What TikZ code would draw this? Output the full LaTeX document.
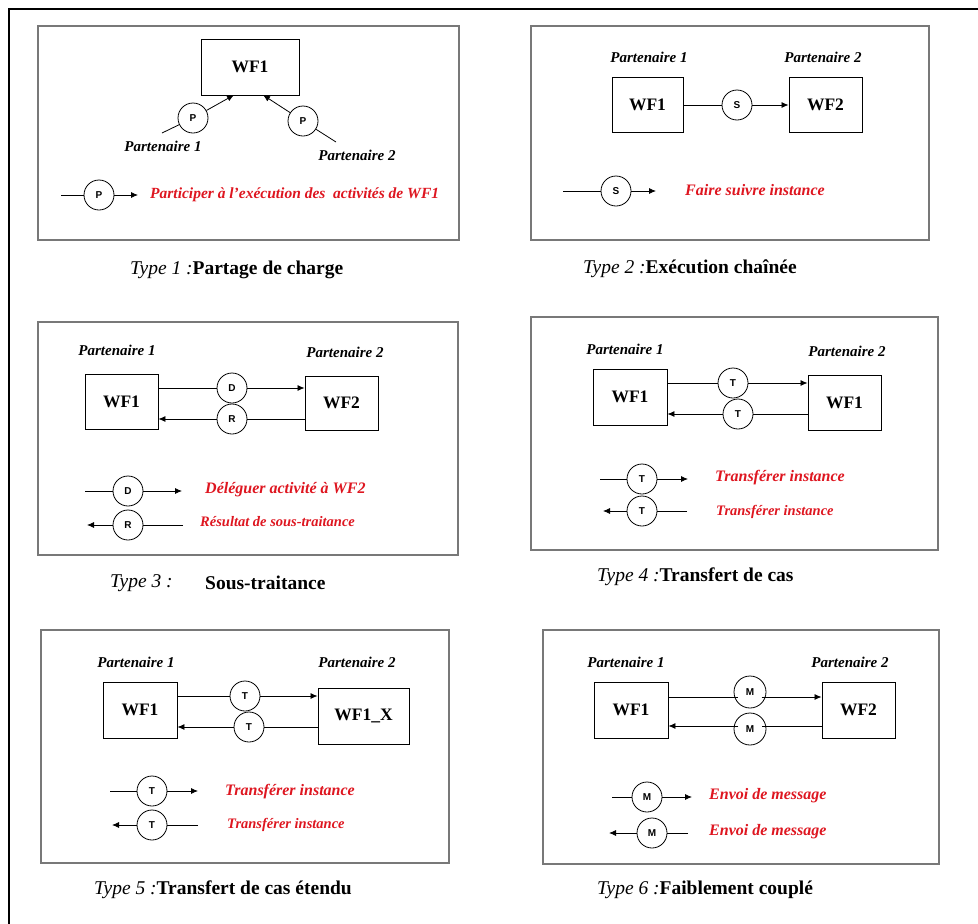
\documentclass[tikz,border=0pt]{standalone}
\usepackage{fontspec}
\setmainfont{Liberation Serif}
\newfontfamily\tokfont{Liberation Sans}
\usetikzlibrary{arrows.meta}
\definecolor{legendred}{RGB}{222,22,32}
\definecolor{framegray}{RGB}{120,120,120}
\tikzset{
  x=1pt, y=-1pt,
  panel/.style={draw=framegray, line width=1.3pt},
  wfbox/.style={draw, line width=0.9pt, inner sep=0, font=\fontsize{17.5}{17.5}\selectfont\bfseries},
  tok/.style={circle, draw, line width=0.8pt, minimum size=30pt, inner sep=0, font=\tokfont\fontsize{10}{10}\selectfont\bfseries},
  partner/.style={inner sep=0, font=\fontsize{15}{15}\selectfont\bfseries\itshape},
  legend/.style={anchor=west, inner sep=0, text=legendred, font=\fontsize{16}{16}\selectfont\bfseries\itshape},
  smalllegend/.style={legend, font=\fontsize{14.5}{14.5}\selectfont\bfseries\itshape},
  caption/.style={anchor=west, inner sep=0},
  conn/.style={line width=0.8pt},
  arr/.style={conn, -{Latex[length=7pt,width=6pt]}},
}
\newcommand{\capt}[2]{{\fontsize{19.5}{19.5}\selectfont\itshape #1}{\fontsize{19.5}{19.5}\selectfont\bfseries #2}}
\begin{document}
\begin{tikzpicture}
\useasboundingbox (0,0) rectangle (978,924);
% outer frame (left and top edges)
\draw[line width=2pt] (9,924) -- (9,9) -- (978,9);

% ---------------- Type 1 : Partage de charge
\draw[panel] (38,26) rectangle (459,240);
\node[wfbox, minimum width=98pt, minimum height=56pt] (a-wf) at (250,67) {WF1};
\node[tok] (a-p1) at (193,118) {P};
\node[tok] (a-p2) at (303,121) {P};
\coordinate (a-s1) at (162,133);
\coordinate (a-s2) at (336,142);
\coordinate (a-t1) at (234,95);
\coordinate (a-t2) at (263,95);
\draw[conn] (a-s1) -- (a-p1);
\draw[arr] (a-p1) -- (a-t1);
\draw[conn] (a-s2) -- (a-p2);
\draw[arr] (a-p2) -- (a-t2);
\node[partner] (a-pa1) at (163,146) {Partenaire 1};
\node[partner] (a-pa2) at (357,155) {Partenaire 2};
\coordinate (a-l0) at (61,195);
\node[tok] (a-lp) at (99,195) {P};
\coordinate (a-l1) at (138,195);
\draw[conn] (a-l0) -- (a-lp);
\draw[arr] (a-lp) -- (a-l1);
\node[legend, font=\fontsize{15.5}{15.5}\selectfont\bfseries\itshape] (a-txt) at (150,195) {Participer à l’exécution des\ \ activités de WF1};
\node[caption] (a-cap) at (130,270) {\capt{Type 1 :}{Partage de charge}};

% ---------------- Type 2 : Exécution chaînée
\draw[panel] (531,26) rectangle (929,240);
\node[wfbox, minimum width=71pt, minimum height=55pt] (b-wf1) at (647.5,104.5) {WF1};
\node[wfbox, minimum width=73pt, minimum height=55pt] (b-wf2) at (825.5,104.5) {WF2};
\node[tok] (b-s) at (737,105) {S};
\draw[conn] (b-wf1.east |- b-s) -- (b-s);
\draw[arr] (b-s) -- (b-wf2.west |- b-s);
\node[partner] (b-pa1) at (649,57) {Partenaire 1};
\node[partner] (b-pa2) at (823,57) {Partenaire 2};
\coordinate (b-l0) at (563,191);
\node[tok] (b-ls) at (616,191) {S};
\coordinate (b-l1) at (656,191);
\draw[conn] (b-l0) -- (b-ls);
\draw[arr] (b-ls) -- (b-l1);
\node[legend] (b-txt) at (685,190) {Faire suivre instance};
\node[caption] (b-cap) at (583,269) {\capt{Type 2 :}{Exécution chaînée}};

% ---------------- Type 3 : Sous-traitance
\draw[panel] (38,322) rectangle (458,555);
\node[wfbox, minimum width=73pt, minimum height=55pt] (c-wf1) at (121.5,401.5) {WF1};
\node[wfbox, minimum width=73pt, minimum height=54pt] (c-wf2) at (341.5,403) {WF2};
\node[tok] (c-d) at (232,388) {D};
\node[tok] (c-r) at (232,419) {R};
\draw[conn] (c-wf1.east |- c-d) -- (c-d);
\draw[arr] (c-d) -- (c-wf2.west |- c-d);
\draw[conn] (c-wf2.west |- c-r) -- (c-r);
\draw[arr] (c-r) -- (c-wf1.east |- c-r);
\node[partner] (c-pa1) at (117,350) {Partenaire 1};
\node[partner] (c-pa2) at (345,352) {Partenaire 2};
\coordinate (c-l0) at (85,491);
\node[tok] (c-ld) at (128,491) {D};
\coordinate (c-l1) at (182,491);
\draw[conn] (c-l0) -- (c-ld);
\draw[arr] (c-ld) -- (c-l1);
\coordinate (c-m0) at (183,525);
\node[tok] (c-lr) at (128,525) {R};
\coordinate (c-m1) at (87,525);
\draw[conn] (c-m0) -- (c-lr);
\draw[arr] (c-lr) -- (c-m1);
\node[legend] (c-txt1) at (205,490) {Déléguer activité à WF2};
\node[smalllegend] (c-txt2) at (200,522) {Résultat de sous-traitance};
\node[caption] (c-cap1) at (110,583) {\capt{Type 3 :}{}};
\node[caption] (c-cap2) at (205,583) {\capt{}{Sous-traitance}};

% ---------------- Type 4 : Transfert de cas
\draw[panel] (531,317) rectangle (938,550);
\node[wfbox, minimum width=74pt, minimum height=56pt] (d-wf1) at (630,397) {WF1};
\node[wfbox, minimum width=73pt, minimum height=55pt] (d-wf2) at (844.5,402.5) {WF1};
\node[tok] (d-t1) at (733,383) {T};
\node[tok] (d-t2) at (738,414) {T};
\draw[conn] (d-wf1.east |- d-t1) -- (d-t1);
\draw[arr] (d-t1) -- (d-wf2.west |- d-t1);
\draw[conn] (d-wf2.west |- d-t2) -- (d-t2);
\draw[arr] (d-t2) -- (d-wf1.east |- d-t2);
\node[partner] (d-pa1) at (625,349) {Partenaire 1};
\node[partner] (d-pa2) at (847,351) {Partenaire 2};
\coordinate (d-l0) at (600,479);
\node[tok] (d-lt1) at (642,479) {T};
\coordinate (d-l1) at (688,479);
\draw[conn] (d-l0) -- (d-lt1);
\draw[arr] (d-lt1) -- (d-l1);
\coordinate (d-m0) at (687,511);
\node[tok] (d-lt2) at (642,511) {T};
\coordinate (d-m1) at (603,511);
\draw[conn] (d-m0) -- (d-lt2);
\draw[arr] (d-lt2) -- (d-m1);
\node[legend] (d-txt1) at (715,478) {Transférer instance};
\node[smalllegend] (d-txt2) at (716,512) {Transférer instance};
\node[caption] (d-cap) at (597,577) {\capt{Type 4 :}{Transfert de cas}};

% ---------------- Type 5 : Transfert de cas étendu
\draw[panel] (41,630) rectangle (449,863);
\node[wfbox, minimum width=74pt, minimum height=56pt] (e-wf1) at (140,710) {WF1};
\node[wfbox, minimum width=91pt, minimum height=56pt] (e-wf2) at (363.5,716) {WF1\_X};
\node[tok] (e-t1) at (245,696) {T};
\node[tok] (e-t2) at (249,727) {T};
\draw[conn] (e-wf1.east |- e-t1) -- (e-t1);
\draw[arr] (e-t1) -- (e-wf2.west |- e-t1);
\draw[conn] (e-wf2.west |- e-t2) -- (e-t2);
\draw[arr] (e-t2) -- (e-wf1.east |- e-t2);
\node[partner] (e-pa1) at (136,662) {Partenaire 1};
\node[partner] (e-pa2) at (357,662) {Partenaire 2};
\coordinate (e-l0) at (110,791);
\node[tok] (e-lt1) at (152,791) {T};
\coordinate (e-l1) at (198,791);
\draw[conn] (e-l0) -- (e-lt1);
\draw[arr] (e-lt1) -- (e-l1);
\coordinate (e-m0) at (198,825);
\node[tok] (e-lt2) at (152,825) {T};
\coordinate (e-m1) at (112,825);
\draw[conn] (e-m0) -- (e-lt2);
\draw[arr] (e-lt2) -- (e-m1);
\node[legend] (e-txt1) at (225,792) {Transférer instance};
\node[smalllegend] (e-txt2) at (227,825) {Transférer instance};
\node[caption] (e-cap) at (94,890) {\capt{Type 5 :}{Transfert de cas étendu}};

% ---------------- Type 6 : Faiblement couplé
\draw[panel] (543,630) rectangle (939,864);
\node[wfbox, minimum width=74pt, minimum height=56pt] (f-wf1) at (631,710) {WF1};
\node[wfbox, minimum width=73pt, minimum height=56pt] (f-wf2) at (858.5,710) {WF2};
\node[tok, minimum size=32pt] (f-m1) at (750,692) {M};
\node[tok, minimum size=32pt] (f-m2) at (750,729) {M};
\draw[conn] (f-wf1.east |- 0,697) -- (f-m1.south west |- 0,697);
\draw[arr] (f-m1.south east |- 0,697) -- (f-wf2.west |- 0,697);
\draw[conn] (f-wf2.west |- 0,726) -- (f-m2.north east |- 0,726);
\draw[arr] (f-m2.north west |- 0,726) -- (f-wf1.east |- 0,726);
\node[partner] (f-pa1) at (626,662) {Partenaire 1};
\node[partner] (f-pa2) at (850,662) {Partenaire 2};
\coordinate (f-l0) at (612,797);
\node[tok] (f-lm1) at (647,797) {M};
\coordinate (f-l1) at (692,797);
\draw[conn] (f-l0) -- (f-lm1);
\draw[arr] (f-lm1) -- (f-l1);
\coordinate (f-m0) at (688,833);
\node[tok] (f-lm2) at (652,833) {M};
\coordinate (f-m1c) at (609,833);
\draw[conn] (f-m0) -- (f-lm2);
\draw[arr] (f-lm2) -- (f-m1c);
\node[legend] (f-txt1) at (709,796) {Envoi de message};
\node[legend] (f-txt2) at (709,832) {Envoi de message};
\node[caption] (f-cap) at (597,890) {\capt{Type 6 :}{Faiblement couplé}};
\end{tikzpicture}
\end{document}
